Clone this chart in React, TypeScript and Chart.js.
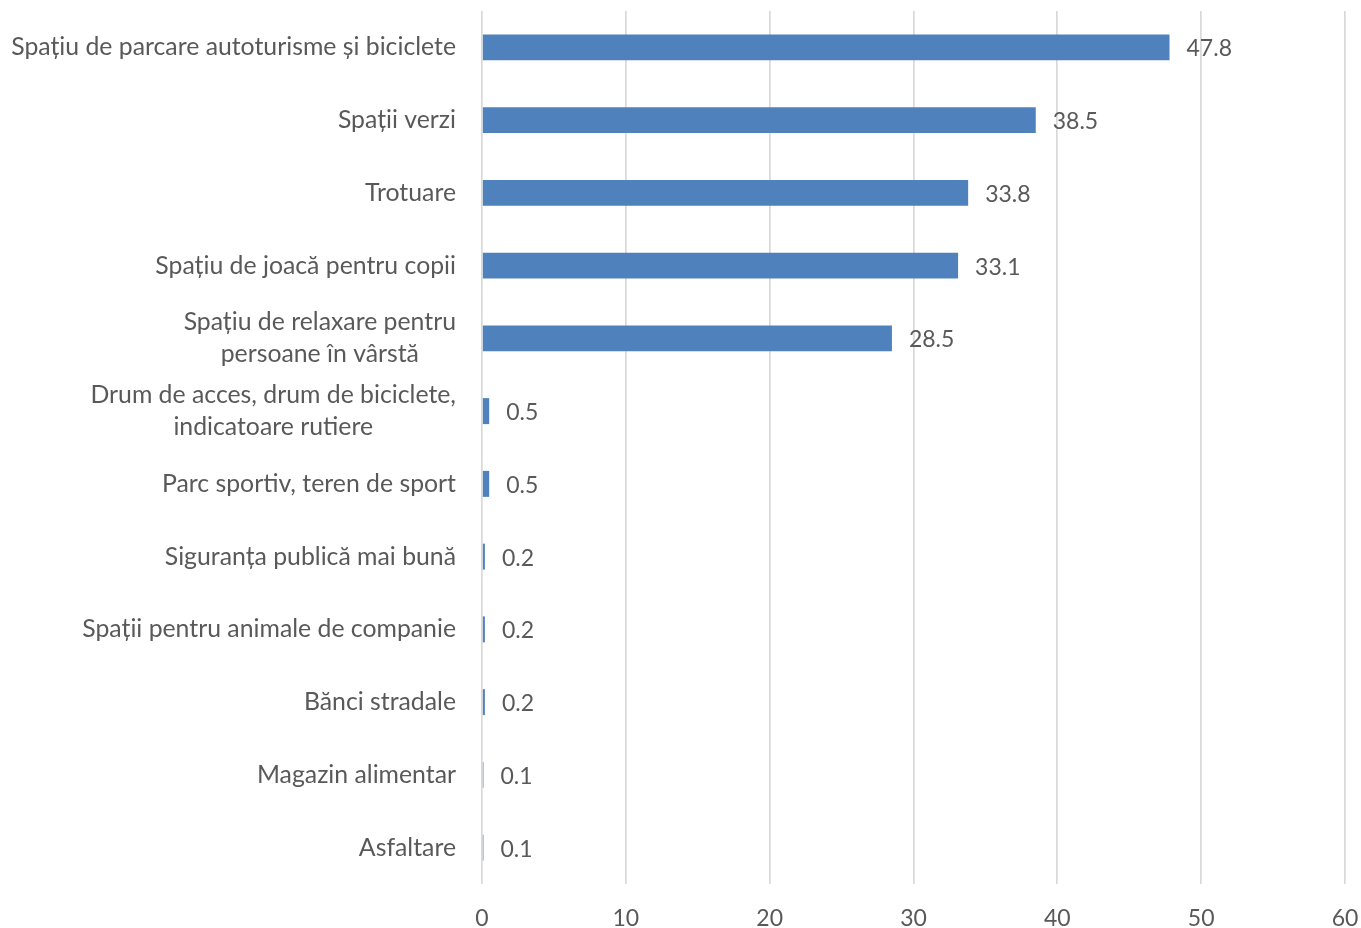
import React, { useEffect, useRef } from "react";
import { Chart, registerables } from "chart.js";

Chart.register(...registerables);

const categories: string[][] = [
  ["Spațiu de parcare autoturisme și biciclete"],
  ["Spații verzi"],
  ["Trotuare"],
  ["Spațiu de joacă pentru copii"],
  ["Spațiu de relaxare pentru", "persoane în vârstă"],
  ["Drum de acces, drum de biciclete,", "indicatoare rutiere"],
  ["Parc sportiv, teren de sport"],
  ["Siguranța publică mai bună"],
  ["Spații pentru animale de companie"],
  ["Bănci stradale"],
  ["Magazin alimentar"],
  ["Asfaltare"],
];
const values: number[] = [47.8, 38.5, 33.8, 33.1, 28.5, 0.5, 0.5, 0.2, 0.2, 0.2, 0.1, 0.1];
const xTicks = { min: 0, max: 60, step: 10 };

const FONT = "Lato, 'Open Sans', sans-serif";
const TEXT = "#595959";
const FS = 24.8;
const TFS = 23;

const labelPlugin = {
  id: "customLabels",
  afterDatasetsDraw(chart: any) {
    const ctx = chart.ctx;
    const yScale = chart.scales.y;
    const meta = chart.getDatasetMeta(0);
    ctx.save();
    ctx.fillStyle = TEXT;
    ctx.font = `${FS}px ${FONT}`;
    ctx.textBaseline = "middle";
    const rightEdge = chart.chartArea.left - 26;
    const lineH = 32;
    categories.forEach((lines, i) => {
      const yc = yScale.getPixelForTick(i);
      const widths = lines.map((l) => ctx.measureText(l).width);
      const maxW = Math.max(...widths);
      const center = rightEdge - maxW / 2;
      lines.forEach((l, j) => {
        const y = yc + (j - (lines.length - 1) / 2) * lineH;
        ctx.textAlign = "center";
        ctx.fillText(l, center, y);
      });
    });
    ctx.font = `${TFS}px ${FONT}`;
    ctx.textAlign = "left";
    meta.data.forEach((bar: any, i: number) => {
      ctx.fillText(String(values[i]), bar.x + 17, bar.y + 1.5);
    });
    ctx.restore();
  },
};

export default function App() {
  const ref = useRef<HTMLCanvasElement>(null);
  useEffect(() => {
    if (!ref.current) return;
    const chart = new Chart(ref.current, {
      type: "bar",
      data: {
        labels: categories.map((c) => c.join(" ")),
        datasets: [
          {
            data: values,
            backgroundColor: "#4F81BD",
            barPercentage: 0.357,
            categoryPercentage: 1,
          },
        ],
      },
      options: {
        indexAxis: "y",
        animation: false,
        responsive: false,
        devicePixelRatio: 1,
        layout: { padding: { top: 11, right: 0, bottom: 0, left: 0 } },
        plugins: { legend: { display: false }, tooltip: { enabled: false } },
        scales: {
          x: {
            min: xTicks.min,
            max: xTicks.max,
            ticks: {
              stepSize: xTicks.step,
              color: TEXT,
              font: { family: FONT, size: TFS },
              padding: 21,
            },
            grid: { color: "#D9D9D9", lineWidth: 1.7, drawTicks: false },
            border: { display: false },
            afterFit: (s: any) => {
              s.height = 44;
              s.paddingRight = 16;
            },
          },
          y: {
            ticks: { display: false },
            grid: { display: false },
            border: { display: false },
            afterFit: (s: any) => {
              s.width = 482;
            },
          },
        },
      },
      plugins: [labelPlugin],
    });
    return () => chart.destroy();
  }, []);
  return (
    <div style={{ position: "fixed", left: 0, top: 0, width: 1361, height: 928, background: "#fff" }}>
      <canvas ref={ref} width={1361} height={928} style={{ width: 1361, height: 928 }} />
    </div>
  );
}
